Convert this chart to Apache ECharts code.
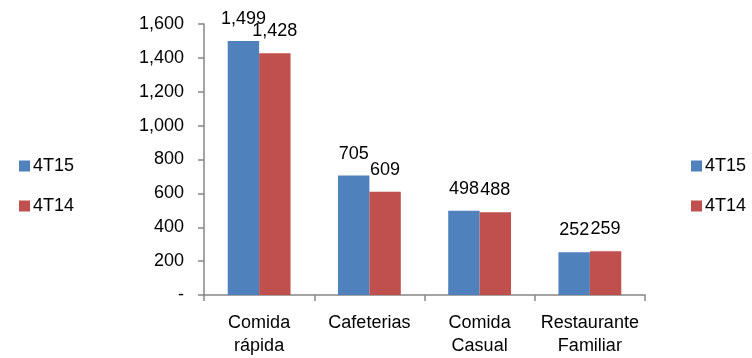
<!DOCTYPE html>
<html>
<head>
<meta charset="utf-8">
<script src="https://cdn.jsdelivr.net/npm/echarts@6/dist/echarts.min.js"></script>
<style>
  html, body { margin: 0; padding: 0; background: #fff; }
  #chart { width: 752px; height: 358px; }
</style>
</head>
<body>
<div id="chart"></div>
<script>
// Segments and quarterly values
const categories = ['Comida\nrápida', 'Cafeterias', 'Comida\nCasual', 'Restaurante\nFamiliar'];
const values4T15 = [1499, 705, 498, 252];
const values4T14 = [1428, 609, 488, 259];
const seriesNames = ['4T15', '4T14'];

const FONT = '"Liberation Sans Narrow", "Arial Narrow", "Liberation Sans", sans-serif';
const fmt = v => v === 0 ? '-' : v.toLocaleString('en-US');

const legendStyle = {
  orient: 'vertical',
  top: 152,
  itemWidth: 11,
  itemHeight: 11,
  itemGap: 22,
  icon: 'rect',
  textStyle: { fontFamily: FONT, fontSize: 18, color: '#000', padding: [0, 0, 0, -2] },
  data: seriesNames
};

const barLabel = {
  show: true,
  position: 'top',
  distance: 13,
  fontFamily: FONT,
  fontSize: 18,
  color: '#000',
  formatter: p => fmt(p.value)
};

const chart = echarts.init(document.getElementById('chart'));
chart.setOption({
  animation: false,
  color: ['#4F81BD', '#C0504D'],
  legend: [
    Object.assign({ left: 14 }, legendStyle),
    Object.assign({ left: 686 }, legendStyle)
  ],
  grid: { left: 204, right: 107, top: 24, bottom: 62 },
  xAxis: {
    type: 'category',
    data: categories,
    axisLine: { lineStyle: { color: '#868686', width: 1.5 } },
    axisTick: { show: true, length: 6, lineStyle: { color: '#868686', width: 1.5 } },
    axisLabel: { interval: 0, fontFamily: FONT, fontSize: 18, color: '#000', margin: 17, lineHeight: 23 }
  },
  yAxis: {
    type: 'value',
    min: 0,
    max: 1600,
    interval: 200,
    splitLine: { show: false },
    axisLine: { show: true, lineStyle: { color: '#868686', width: 1.5 } },
    axisTick: { show: true, length: 6, lineStyle: { color: '#868686', width: 1.5 } },
    axisLabel: { fontFamily: FONT, fontSize: 18, color: '#000', margin: 20, formatter: fmt }
  },
  series: [
    {
      name: seriesNames[0],
      type: 'bar',
      data: values4T15,
      barGap: '0%',
      barCategoryGap: '43%',
      label: barLabel
    },
    {
      name: seriesNames[1],
      type: 'bar',
      data: values4T14,
      label: barLabel
    }
  ]
});
</script>
</body>
</html>
